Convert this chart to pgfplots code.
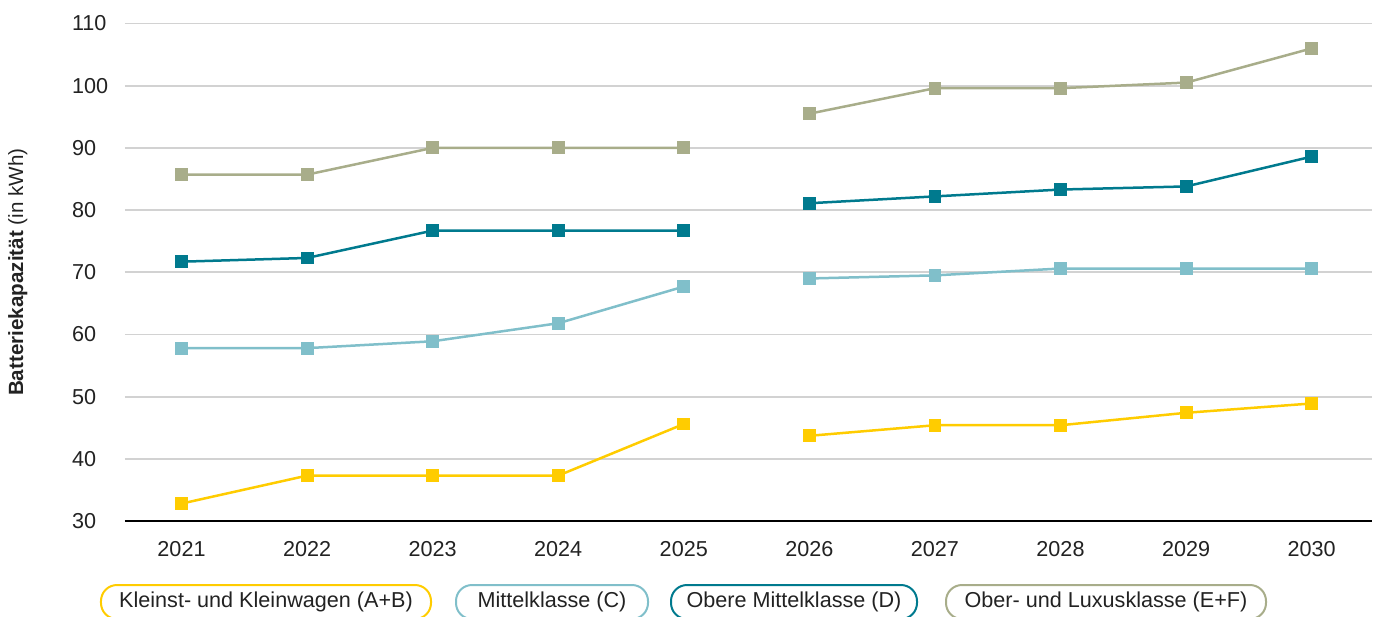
\documentclass[border=0pt]{standalone}
\usepackage{pgfplots}
\pgfplotsset{compat=1.18}
\usepackage{fontspec}
\setmainfont{Liberation Sans}
\definecolor{cA}{HTML}{FFCC00}
\definecolor{cC}{HTML}{80BFCA}
\definecolor{cD}{HTML}{007A8E}
\definecolor{cE}{HTML}{A8AD8A}
\definecolor{txt}{HTML}{222222}
\definecolor{gridc}{HTML}{D2D2D2}
\begin{document}
\begin{tikzpicture}
\useasboundingbox (-62.5pt,-47.5pt) rectangle (627.5pt,260.5pt);
\begin{axis}[
  at={(0,0)}, anchor=south west,
  scale only axis, width=623.5pt, height=248.75pt,
  xmin=2020.55, xmax=2030.48,
  ymin=30, ymax=110,
  xtick={2021,...,2030},
  ytick={30,40,...,110},
  xticklabel style={/pgf/number format/1000 sep={}, text=txt, font=\fontsize{10.8}{12}\selectfont, yshift=-6.5pt},
  yticklabel style={anchor=west, xshift=-30pt, text=txt, font=\fontsize{10.8}{12}\selectfont},
  /pgf/number format/assume math mode=true,
  major tick length=0pt,
  axis x line*=bottom,
  axis y line*=left,
  y axis line style={draw=none},
  x axis line style={line width=1.2pt, black, -},
  ymajorgrids, grid style={gridc, line width=0.9pt},
  ylabel={\textbf{Batteriekapazität} (in kWh)},
  ylabel style={at={(axis description cs:-0.086,0.5)}, anchor=center, text=txt, font=\fontsize{10.3}{12}\selectfont},
  every axis plot/.append style={line width=1.25pt, mark=square*, mark size=2.6pt},
  clip=false,
]
% Kleinst- und Kleinwagen
\addplot[cA, mark options={fill=cA, draw=cA}] coordinates {(2021,32.8) (2022,37.3) (2023,37.3) (2024,37.3) (2025,45.6)};
\addplot[cA, mark options={fill=cA, draw=cA}] coordinates {(2026,43.7) (2027,45.4) (2028,45.4) (2029,47.4) (2030,48.9)};
% Mittelklasse
\addplot[cC, mark options={fill=cC, draw=cC}] coordinates {(2021,57.8) (2022,57.8) (2023,58.9) (2024,61.8) (2025,67.7)};
\addplot[cC, mark options={fill=cC, draw=cC}] coordinates {(2026,69.0) (2027,69.5) (2028,70.6) (2029,70.6) (2030,70.6)};
% Obere Mittelklasse
\addplot[cD, mark options={fill=cD, draw=cD}] coordinates {(2021,71.7) (2022,72.3) (2023,76.7) (2024,76.7) (2025,76.7)};
\addplot[cD, mark options={fill=cD, draw=cD}] coordinates {(2026,81.1) (2027,82.2) (2028,83.3) (2029,83.8) (2030,88.6)};
% Ober- und Luxusklasse
\addplot[cE, mark options={fill=cE, draw=cE}] coordinates {(2021,85.7) (2022,85.7) (2023,90.0) (2024,90.0) (2025,90.0)};
\addplot[cE, mark options={fill=cE, draw=cE}] coordinates {(2026,95.5) (2027,99.6) (2028,99.6) (2029,100.5) (2030,106.0)};
\end{axis}
\begin{scope}[every node/.style={draw, line width=1pt, rounded corners=8pt, minimum height=17pt, text=txt, font=\fontsize{10.8}{12}\selectfont, anchor=center, inner xsep=0pt}]
\node[cA, minimum width=165pt] at (70.5pt,-40.5pt) {\color{txt}Kleinst- und Kleinwagen (A+B)};
\node[cC, minimum width=96pt] at (213.5pt,-40.5pt) {\color{txt}Mittelklasse (C)};
\node[cD, minimum width=123pt] at (334.5pt,-40.5pt) {\color{txt}Obere Mittelklasse (D)};
\node[cE, minimum width=160pt] at (490.5pt,-40.5pt) {\color{txt}Ober- und Luxusklasse (E+F)};
\end{scope}
\end{tikzpicture}
\end{document}
